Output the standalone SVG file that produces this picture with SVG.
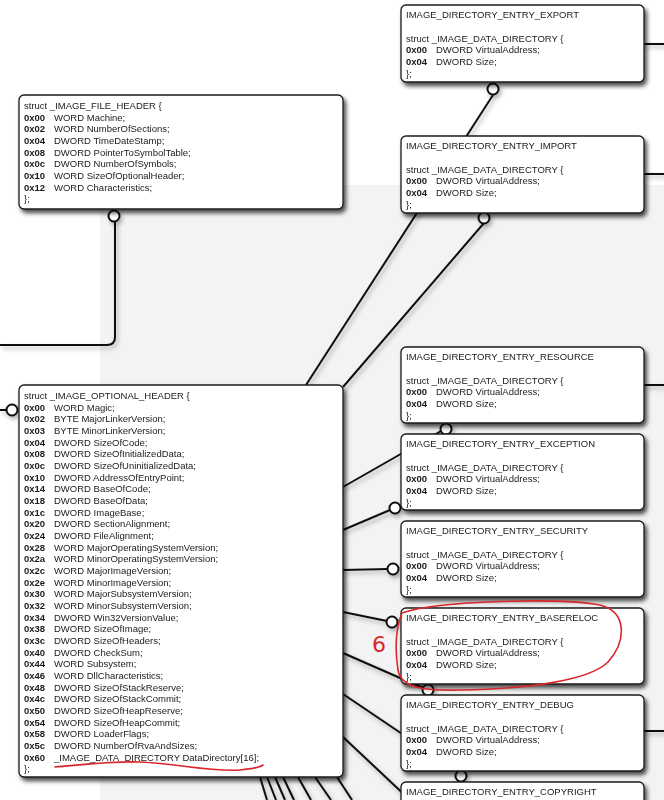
<svg xmlns="http://www.w3.org/2000/svg" width="664" height="800" viewBox="0 0 664 800">
<style>
text{font-family:"Liberation Sans",Arial,sans-serif;font-size:9.5px;fill:#1a1a1a}
.b{font-weight:bold}
.box{fill:#fff;stroke:#1a1a1a;stroke-width:1.3}
.ln{fill:none;stroke:#111;stroke-width:2}
.dot{fill:#fff;stroke:#111;stroke-width:2}
.red{fill:none;stroke:#d8262a;stroke-width:1.6;stroke-linecap:round}
</style>
<defs>
<filter id="sh" x="-10%" y="-10%" width="130%" height="130%">
<feDropShadow dx="2.5" dy="3.5" stdDeviation="2.2" flood-color="#000" flood-opacity="0.7"/>
</filter>
<filter id="lsh" x="-20%" y="-20%" width="140%" height="140%">
<feDropShadow dx="2" dy="3" stdDeviation="2" flood-color="#000" flood-opacity="0.3"/>
</filter>
</defs>
<rect width="664" height="800" fill="#fff"/>
<rect x="100" y="185" width="564" height="615" fill="#f3f3f3"/>

<g id="connectors" filter="url(#lsh)">
<path class="ln" d="M0,345 H107 Q115,345 115,337 V222"/>
<circle class="dot" cx="114" cy="216" r="5.5"/>
<path class="ln" d="M0,410 H7"/>
<circle class="dot" cx="12" cy="410" r="5.5"/>
<path class="ln" d="M493,95 L306,385"/>
<circle class="dot" cx="493" cy="89" r="5.5"/>
<path class="ln" d="M484,223 L343,387"/>
<circle class="dot" cx="484" cy="218" r="5.5"/>
<path class="ln" d="M343,487 L441,431"/>
<circle class="dot" cx="446" cy="429" r="5.5"/>
<path class="ln" d="M343,530 L390,510"/>
<circle class="dot" cx="395" cy="508" r="5.5"/>
<path class="ln" d="M343,570 L388,569"/>
<circle class="dot" cx="393" cy="569" r="5.5"/>
<path class="ln" d="M343,612 L387,621"/>
<circle class="dot" cx="392" cy="622" r="5.5"/>
<path class="ln" d="M343,653 L423,688"/>
<circle class="dot" cx="428" cy="690" r="5.5"/>
<path class="ln" d="M343,694 L420,746"/>
<path class="ln" d="M343,737 L410,800"/>
<circle class="dot" cx="461" cy="776" r="5.5"/>
<path class="ln" d="M260,777 L267,800 M267,777 L276,800 M275,777 L285,800 M283,777 L294,800 M298,777 L311,800 M315,777 L331,800 M337,777 L352,800"/>
<path class="ln" d="M644,44 H664 M644,174 H664 M644,385 H664 M644,731 H664"/>
</g>

<g id="file_header" filter="url(#sh)">
<rect class="box" x="19" y="95" width="324" height="114" rx="5"/>
<text x="24" y="109">struct _IMAGE_FILE_HEADER {
<tspan x="24" dy="11.67" class="b">0x00</tspan><tspan x="54">WORD Machine;</tspan>
<tspan x="24" dy="11.67" class="b">0x02</tspan><tspan x="54">WORD NumberOfSections;</tspan>
<tspan x="24" dy="11.67" class="b">0x04</tspan><tspan x="54">DWORD TimeDateStamp;</tspan>
<tspan x="24" dy="11.67" class="b">0x08</tspan><tspan x="54">DWORD PointerToSymbolTable;</tspan>
<tspan x="24" dy="11.67" class="b">0x0c</tspan><tspan x="54">DWORD NumberOfSymbols;</tspan>
<tspan x="24" dy="11.67" class="b">0x10</tspan><tspan x="54">WORD SizeOfOptionalHeader;</tspan>
<tspan x="24" dy="11.67" class="b">0x12</tspan><tspan x="54">WORD Characteristics;</tspan>
<tspan x="24" dy="11.67">};</tspan></text>
</g>

<g id="optional_header" filter="url(#sh)">
<rect class="box" x="19" y="385" width="324" height="392" rx="5"/>
<text x="24" y="399">struct _IMAGE_OPTIONAL_HEADER {
<tspan x="24" dy="11.67" class="b">0x00</tspan><tspan x="54">WORD Magic;</tspan>
<tspan x="24" dy="11.67" class="b">0x02</tspan><tspan x="54">BYTE MajorLinkerVersion;</tspan>
<tspan x="24" dy="11.67" class="b">0x03</tspan><tspan x="54">BYTE MinorLinkerVersion;</tspan>
<tspan x="24" dy="11.67" class="b">0x04</tspan><tspan x="54">DWORD SizeOfCode;</tspan>
<tspan x="24" dy="11.67" class="b">0x08</tspan><tspan x="54">DWORD SizeOfInitializedData;</tspan>
<tspan x="24" dy="11.67" class="b">0x0c</tspan><tspan x="54">DWORD SizeOfUninitializedData;</tspan>
<tspan x="24" dy="11.67" class="b">0x10</tspan><tspan x="54">DWORD AddressOfEntryPoint;</tspan>
<tspan x="24" dy="11.67" class="b">0x14</tspan><tspan x="54">DWORD BaseOfCode;</tspan>
<tspan x="24" dy="11.67" class="b">0x18</tspan><tspan x="54">DWORD BaseOfData;</tspan>
<tspan x="24" dy="11.67" class="b">0x1c</tspan><tspan x="54">DWORD ImageBase;</tspan>
<tspan x="24" dy="11.67" class="b">0x20</tspan><tspan x="54">DWORD SectionAlignment;</tspan>
<tspan x="24" dy="11.67" class="b">0x24</tspan><tspan x="54">DWORD FileAlignment;</tspan>
<tspan x="24" dy="11.67" class="b">0x28</tspan><tspan x="54">WORD MajorOperatingSystemVersion;</tspan>
<tspan x="24" dy="11.67" class="b">0x2a</tspan><tspan x="54">WORD MinorOperatingSystemVersion;</tspan>
<tspan x="24" dy="11.67" class="b">0x2c</tspan><tspan x="54">WORD MajorImageVersion;</tspan>
<tspan x="24" dy="11.67" class="b">0x2e</tspan><tspan x="54">WORD MinorImageVersion;</tspan>
<tspan x="24" dy="11.67" class="b">0x30</tspan><tspan x="54">WORD MajorSubsystemVersion;</tspan>
<tspan x="24" dy="11.67" class="b">0x32</tspan><tspan x="54">WORD MinorSubsystemVersion;</tspan>
<tspan x="24" dy="11.67" class="b">0x34</tspan><tspan x="54">DWORD Win32VersionValue;</tspan>
<tspan x="24" dy="11.67" class="b">0x38</tspan><tspan x="54">DWORD SizeOfImage;</tspan>
<tspan x="24" dy="11.67" class="b">0x3c</tspan><tspan x="54">DWORD SizeOfHeaders;</tspan>
<tspan x="24" dy="11.67" class="b">0x40</tspan><tspan x="54">DWORD CheckSum;</tspan>
<tspan x="24" dy="11.67" class="b">0x44</tspan><tspan x="54">WORD Subsystem;</tspan>
<tspan x="24" dy="11.67" class="b">0x46</tspan><tspan x="54">WORD DllCharacteristics;</tspan>
<tspan x="24" dy="11.67" class="b">0x48</tspan><tspan x="54">DWORD SizeOfStackReserve;</tspan>
<tspan x="24" dy="11.67" class="b">0x4c</tspan><tspan x="54">DWORD SizeOfStackCommit;</tspan>
<tspan x="24" dy="11.67" class="b">0x50</tspan><tspan x="54">DWORD SizeOfHeapReserve;</tspan>
<tspan x="24" dy="11.67" class="b">0x54</tspan><tspan x="54">DWORD SizeOfHeapCommit;</tspan>
<tspan x="24" dy="11.67" class="b">0x58</tspan><tspan x="54">DWORD LoaderFlags;</tspan>
<tspan x="24" dy="11.67" class="b">0x5c</tspan><tspan x="54">DWORD NumberOfRvaAndSizes;</tspan>
<tspan x="24" dy="11.67" class="b">0x60</tspan><tspan x="54">_IMAGE_DATA_DIRECTORY DataDirectory[16];</tspan>
<tspan x="24" dy="11.67">};</tspan></text>
</g>

<g id="export" filter="url(#sh)">
<rect class="box" x="401" y="5" width="243" height="77" rx="5"/>
<text x="406" y="18.3">IMAGE_DIRECTORY_ENTRY_EXPORT<tspan x="406" dy="23.3">struct _IMAGE_DATA_DIRECTORY {</tspan><tspan x="406" dy="11.67" class="b">0x00</tspan><tspan x="436">DWORD VirtualAddress;</tspan><tspan x="406" dy="11.67" class="b">0x04</tspan><tspan x="436">DWORD Size;</tspan><tspan x="406" dy="11.67">};</tspan></text>
</g>
<g id="import" filter="url(#sh)">
<rect class="box" x="401" y="136" width="243" height="77" rx="5"/>
<text x="406" y="149.3">IMAGE_DIRECTORY_ENTRY_IMPORT<tspan x="406" dy="23.3">struct _IMAGE_DATA_DIRECTORY {</tspan><tspan x="406" dy="11.67" class="b">0x00</tspan><tspan x="436">DWORD VirtualAddress;</tspan><tspan x="406" dy="11.67" class="b">0x04</tspan><tspan x="436">DWORD Size;</tspan><tspan x="406" dy="11.67">};</tspan></text>
</g>
<g id="resource" filter="url(#sh)">
<rect class="box" x="401" y="347" width="243" height="76" rx="5"/>
<text x="406" y="360.3">IMAGE_DIRECTORY_ENTRY_RESOURCE<tspan x="406" dy="23.3">struct _IMAGE_DATA_DIRECTORY {</tspan><tspan x="406" dy="11.67" class="b">0x00</tspan><tspan x="436">DWORD VirtualAddress;</tspan><tspan x="406" dy="11.67" class="b">0x04</tspan><tspan x="436">DWORD Size;</tspan><tspan x="406" dy="11.67">};</tspan></text>
</g>
<g id="exception" filter="url(#sh)">
<rect class="box" x="401" y="434" width="243" height="76" rx="5"/>
<text x="406" y="447.3">IMAGE_DIRECTORY_ENTRY_EXCEPTION<tspan x="406" dy="23.3">struct _IMAGE_DATA_DIRECTORY {</tspan><tspan x="406" dy="11.67" class="b">0x00</tspan><tspan x="436">DWORD VirtualAddress;</tspan><tspan x="406" dy="11.67" class="b">0x04</tspan><tspan x="436">DWORD Size;</tspan><tspan x="406" dy="11.67">};</tspan></text>
</g>
<g id="security" filter="url(#sh)">
<rect class="box" x="401" y="521" width="243" height="76" rx="5"/>
<text x="406" y="534.3">IMAGE_DIRECTORY_ENTRY_SECURITY<tspan x="406" dy="23.3">struct _IMAGE_DATA_DIRECTORY {</tspan><tspan x="406" dy="11.67" class="b">0x00</tspan><tspan x="436">DWORD VirtualAddress;</tspan><tspan x="406" dy="11.67" class="b">0x04</tspan><tspan x="436">DWORD Size;</tspan><tspan x="406" dy="11.67">};</tspan></text>
</g>
<g id="basereloc" filter="url(#sh)">
<rect class="box" x="401" y="608" width="243" height="76" rx="5"/>
<text x="406" y="621.3">IMAGE_DIRECTORY_ENTRY_BASERELOC<tspan x="406" dy="23.3">struct _IMAGE_DATA_DIRECTORY {</tspan><tspan x="406" dy="11.67" class="b">0x00</tspan><tspan x="436">DWORD VirtualAddress;</tspan><tspan x="406" dy="11.67" class="b">0x04</tspan><tspan x="436">DWORD Size;</tspan><tspan x="406" dy="11.67">};</tspan></text>
</g>
<g id="debug" filter="url(#sh)">
<rect class="box" x="401" y="695" width="243" height="76" rx="5"/>
<text x="406" y="708.3">IMAGE_DIRECTORY_ENTRY_DEBUG<tspan x="406" dy="23.3">struct _IMAGE_DATA_DIRECTORY {</tspan><tspan x="406" dy="11.67" class="b">0x00</tspan><tspan x="436">DWORD VirtualAddress;</tspan><tspan x="406" dy="11.67" class="b">0x04</tspan><tspan x="436">DWORD Size;</tspan><tspan x="406" dy="11.67">};</tspan></text>
</g>
<g id="copyright" filter="url(#sh)">
<rect class="box" x="401" y="782" width="243" height="76" rx="5"/>
<text x="406" y="795.3">IMAGE_DIRECTORY_ENTRY_COPYRIGHT</text>
</g>

<g id="annotations">
<path class="red" d="M55,767 C80,765 110,761 140,762 C180,764 210,772 240,770 C252,769 260,767 263,765"/>
<path class="red" d="M402,613 C440,600 560,598 600,605 C628,612 626,642 608,662 C588,682 520,689 460,690 C420,691 401,687 398,670 C395,650 395,630 402,613"/>
<text x="372" y="652" style="font-family:'DejaVu Sans',sans-serif;font-size:22px;fill:#d8262a">6</text>
</g>
</svg>
